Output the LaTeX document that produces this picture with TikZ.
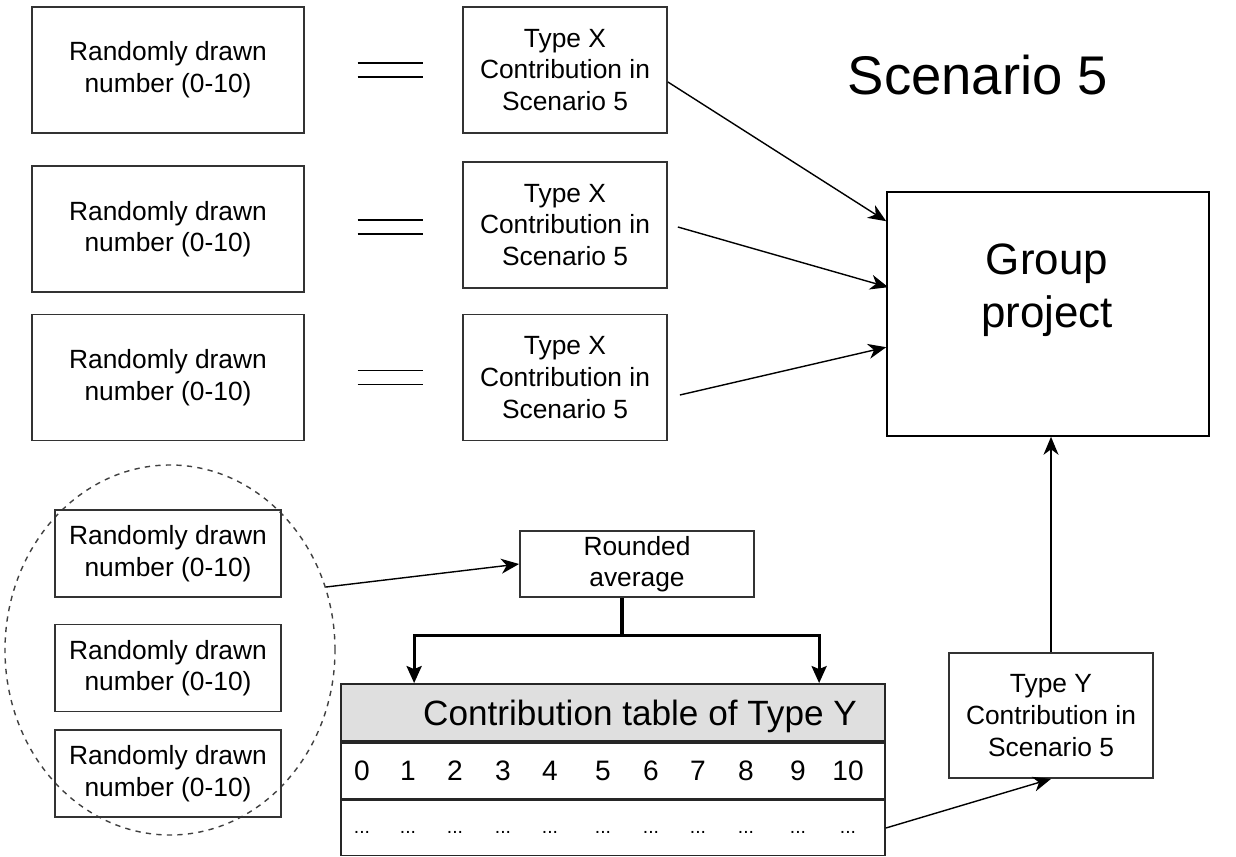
\documentclass[tikz,border=0pt]{standalone}
\usepackage{fontspec}
\setmainfont{Liberation Sans}
\usetikzlibrary{arrows.meta,positioning,calc,shapes.geometric}
\newlength\unitpx
\setlength\unitpx{0.02cm}
\begin{document}
\begin{tikzpicture}[x=0.02cm,y=-0.02cm,
  box/.style 2 args={draw=black!80, line width=1pt, align=center, inner sep=0pt,
    minimum width=#1\unitpx, minimum height=#2\unitpx, font=\fontsize{15}{18}\selectfont},
  cell/.style={draw=black!85, line width=1pt, minimum width=544\unitpx, minimum height=56\unitpx, inner sep=0pt},
  arr/.style={-{Stealth[length=3.6mm,width=3mm,inset=1.1mm]}, line width=0.8pt},
  forkarr/.style={-{Stealth[length=3.4mm,width=3mm,inset=0.6mm]}, line width=1.8pt}]

\useasboundingbox (0,0) rectangle (1236,857);

% type X players
\node[box={272}{126}] (rand1) at (168,70) {Randomly drawn\\number (0-10)};
\node[box={272}{126}] (rand2) at (168,229) {Randomly drawn\\number (0-10)};
\node[box={272}{126}] (rand3) at (168,377.5) {Randomly drawn\\number (0-10)};

\node[box={204}{126}] (typex1) at (565,70) {Type X\\Contribution in\\Scenario 5};
\node[box={204}{126}] (typex2) at (565,225) {Type X\\Contribution in\\Scenario 5};
\node[box={204}{126}] (typex3) at (565,377.5) {Type X\\Contribution in\\Scenario 5};

\foreach \a/\b in {rand1/typex1, rand2/typex2, rand3/typex3} {
  \draw[line width=0.9pt] ($(\a.east)!0.5!(\b.west)+(-26,-7)$) -- ++(65,0);
  \draw[line width=0.9pt] ($(\a.east)!0.5!(\b.west)+(-26,7)$) -- ++(65,0);
}

\node[font=\fontsize{31}{36}\selectfont] (title) at (978,75) {Scenario 5};

% group project
\node[draw, line width=0.9pt, minimum width=322\unitpx, minimum height=244\unitpx] (group) at (1048,314) {};
\node[align=center, font=\fontsize{25}{30}\selectfont] (grouptxt) at (1047,290) {Group\\project};

\draw[arr] ($(typex1.east)+(0,12)$) -- ($(group.north west)+(0,30)$);
\draw[arr] ($(typex2.east)+(10,2)$) -- ($(group.north west)+(2,96)$);
\draw[arr] ($(typex3.east)+(12,17.5)$) -- ($(group.north west)+(0,156)$);

% type Y players
\node[draw=black!75, dashed, line width=0.8pt, ellipse, inner sep=0pt,
  minimum width=330\unitpx, minimum height=370\unitpx] (pool) at (170,650) {};
\node[box={226}{87}] (randy1) at (168,553.5) {Randomly drawn\\number (0-10)};
\node[box={226}{87}] (randy2) at (168,668) {Randomly drawn\\number (0-10)};
\node[box={226}{87}] (randy3) at (168,773.5) {Randomly drawn\\number (0-10)};

\node[box={234}{66}] (avg) at (637,564) {Rounded\\average};
\draw[arr] (pool.22) -- (avg.west);

% contribution table
\node[cell, fill=gray!25, minimum height=57\unitpx] (hdr) at (613,712.5) {};
\node[font=\fontsize{20}{24}\selectfont] (hdrtxt) at (640,716) {Contribution table of Type Y};
\node[cell, below=0pt of hdr] (nums) {};
\node[cell, below=0pt of nums, minimum height=55\unitpx] (vals) {};
\foreach \n/\x in {0/362,1/408,2/455,3/503,4/550,5/603,6/651,7/698,8/746,9/798,10/848} {
  \node[font=\fontsize{16}{19}\selectfont] (num\n) at (\x,0 |- nums) {\n};
  \node[font=\fontsize{11}{13}\selectfont] (dot\n) at (\x,832) {...};
}

\draw[line width=1.8pt] ($(avg.south)+(-15,0)$) -- ++(0,38) coordinate (fork);
\draw[forkarr] (fork) -| ($(hdr.north west)+(74,0)$);
\draw[forkarr] (fork) -| ($(hdr.north west)+(479,0)$);

\node[box={204}{125}] (typey) at (1051,715.5) {Type Y\\Contribution in\\Scenario 5};
\draw[arr] (vals.east) -- (typey.south);
\draw[arr] (typey.north) -- (typey.north |- group.south);

\end{tikzpicture}
\end{document}
